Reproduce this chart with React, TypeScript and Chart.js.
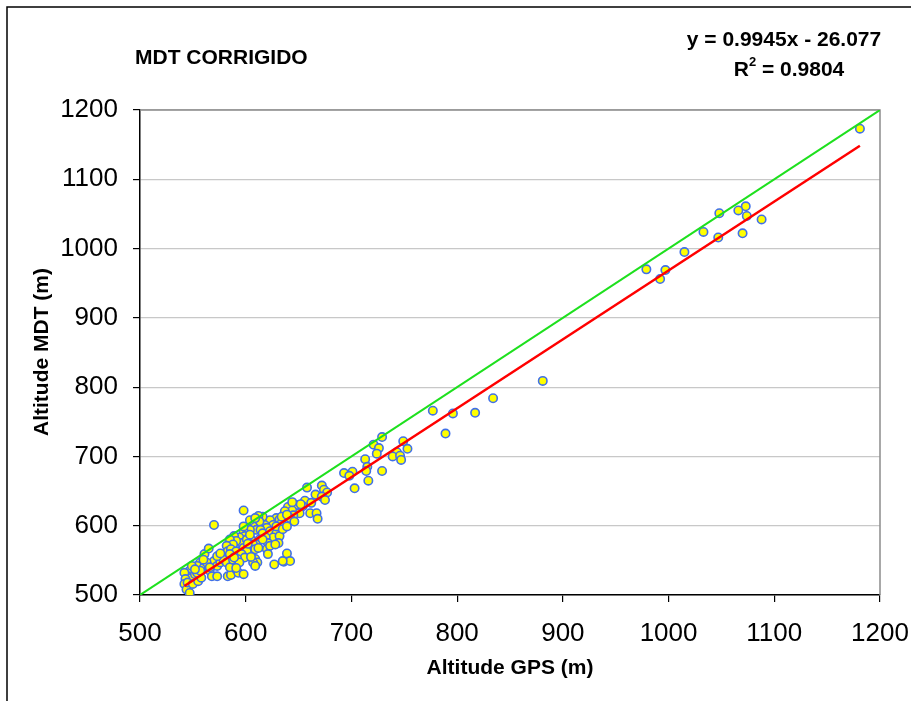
import React, { useEffect, useRef } from "react";
import { Chart, registerables } from "chart.js";

Chart.register(...registerables);

// GPS altitude (x) and corrected DTM altitude (y), metres
const gpsAltitude: number[] = [
  1181, 1088, 1073, 1066, 1074, 1070, 1048, 1047, 1033, 1015, 997, 992, 979,
  881, 834, 817, 796, 789, 777,
  729, 721, 726, 724, 749, 753, 743, 739, 746, 747, 713, 715, 714, 729, 716, 703, 693, 701, 698,
  658, 672, 674, 677, 666, 672, 675, 656, 662, 661, 667, 668,
  654, 648, 640, 644, 637, 651,
  645, 642, 646, 629, 632, 634, 623, 626, 618, 620, 616, 612, 613,
  607, 610, 604, 601, 598, 599, 598, 614, 616, 623, 629,
  626, 632, 631, 619, 621, 613, 610, 605, 607, 609,
  594, 596, 589, 591, 585, 588, 582, 583, 586, 591, 598, 601, 596, 599,
  609, 611, 607, 605, 620, 623, 628, 627, 636, 639, 642,
  570, 561, 565, 557, 554, 560, 565, 570, 573, 576, 579, 582,
  566, 568, 573, 583, 586, 591, 593, 598, 585, 588, 592, 594,
  547, 545, 549, 552, 542, 543, 542, 544, 547, 545, 550, 555, 558,
  554, 557, 549, 552, 563, 566, 560, 601, 602, 604,
  629, 635, 639, 634, 639, 644, 652, 585, 589, 573, 576, 612, 616,
  604, 609, 598, 621, 609, 591, 635,
];

const mdtAltitude: number[] = [
  1173, 1042, 1061, 1055, 1047, 1022, 1051, 1016, 1024, 995, 969, 956, 970,
  809, 784, 763, 762, 733, 766,
  728, 717, 712, 704, 722, 711, 706, 700, 701, 695, 696, 685, 679, 679, 665, 654, 676, 678, 672,
  655, 658, 652, 648, 645, 642, 637, 636, 633, 618, 618, 610,
  628, 630, 627, 622, 621, 618,
  615, 611, 606, 611, 609, 604, 608, 601, 601, 597, 613, 614, 606,
  599, 594, 594, 587, 592, 585, 622, 594, 589, 592, 589,
  583, 585, 575, 583, 575, 580, 573, 580, 573, 566,
  583, 575, 585, 578, 580, 573, 571, 563, 566, 563, 568, 563, 559, 554,
  552, 547, 547, 555, 566, 571, 573, 544, 548, 560, 549,
  601, 559, 567, 547, 542, 539, 540, 549, 542, 547, 551, 547,
  535, 527, 527, 527, 529, 537, 532, 530, 540, 551, 552, 547,
  535, 527, 525, 530, 532, 523, 516, 508, 503, 518, 516, 520, 525,
  532, 535, 542, 537, 547, 540, 551, 580, 574, 587,
  599, 595, 599, 613, 616, 634, 631, 559, 554, 556, 560, 568, 580,
  608, 611, 599, 559, 542, 539, 549,
];

const axisTicks: number[] = [500, 600, 700, 800, 900, 1000, 1100, 1200];

// Trend line coefficients shown on the chart
const trendSlope = 0.9945;
const trendIntercept = -26.077;

const chartTitle = "MDT CORRIGIDO";
const equationLabel = "y = 0.9945x - 26.077";
const r2Value = "0.9804";
const xAxisTitle = "Altitude GPS (m)";
const yAxisTitle = "Altitude MDT (m)";

const FONT = "'Liberation Sans', Arial, Helvetica, sans-serif";

export default function App() {
  const canvasRef = useRef<HTMLCanvasElement | null>(null);

  useEffect(() => {
    const canvas = canvasRef.current;
    if (!canvas) return;

    const points = gpsAltitude.map((x, i) => ({ x, y: mdtAltitude[i] }));
    const xMin = Math.min(...gpsAltitude);
    const xMax = Math.max(...gpsAltitude);
    const trend = [
      { x: xMin, y: trendSlope * xMin + trendIntercept },
      { x: xMax, y: trendSlope * xMax + trendIntercept },
    ];
    const identity = [
      { x: axisTicks[0], y: axisTicks[0] },
      { x: axisTicks[axisTicks.length - 1], y: axisTicks[axisTicks.length - 1] },
    ];

    const decor = {
      id: "decor",
      beforeDatasetsDraw(chart: any) {
        const { ctx, chartArea } = chart;
        const { left, top, right, bottom } = chartArea;
        ctx.save();
        ctx.strokeStyle = "#8c8c8c";
        ctx.lineWidth = 1.5;
        ctx.beginPath();
        ctx.moveTo(left, top);
        ctx.lineTo(right, top);
        ctx.lineTo(right, bottom);
        ctx.stroke();
        ctx.restore();
      },
      afterDraw(chart: any) {
        const { ctx } = chart;
        ctx.save();
        // outer frame
        ctx.strokeStyle = "#000";
        ctx.lineWidth = 1.5;
        ctx.beginPath();
        ctx.moveTo(7, 701);
        ctx.lineTo(7, 7);
        ctx.lineTo(911, 7);
        ctx.stroke();

        ctx.fillStyle = "#000";
        ctx.textBaseline = "middle";
        const big = `bold 21px ${FONT}`;
        // title
        ctx.font = big;
        ctx.textAlign = "left";
        ctx.fillText(chartTitle, 135, 58);

        // equation
        ctx.textAlign = "center";
        ctx.fillText(equationLabel, 784, 40);

        // R^2 line
        const small = `bold 13px ${FONT}`;
        ctx.font = big;
        const wR = ctx.measureText("R").width;
        const rest = " = " + r2Value;
        const wRest = ctx.measureText(rest).width;
        ctx.font = small;
        const w2 = ctx.measureText("2").width;
        const total = wR + w2 + wRest;
        const x0 = 789 - total / 2;
        ctx.textAlign = "left";
        ctx.font = big;
        ctx.fillText("R", x0, 70);
        ctx.font = small;
        ctx.fillText("2", x0 + wR, 62);
        ctx.font = big;
        ctx.fillText(rest, x0 + wR + w2, 70);

        // axis titles
        ctx.textAlign = "center";
        ctx.font = big;
        ctx.fillText(xAxisTitle, 510, 668);
        ctx.translate(42, 352);
        ctx.rotate(-Math.PI / 2);
        ctx.fillText(yAxisTitle, 0, 0);
        ctx.restore();
      },
    };

    const chart = new Chart(canvas, {
      type: "scatter",
      data: {
        datasets: [
          {
            label: "trend",
            data: trend,
            showLine: true,
            borderColor: "#ff0000",
            borderWidth: 2.5,
            pointRadius: 0,
            order: 0,
          },
          {
            label: "identity",
            data: identity,
            showLine: true,
            borderColor: "#1ee01e",
            borderWidth: 2,
            pointRadius: 0,
            order: 1,
          },
          {
            label: "points",
            data: points,
            backgroundColor: "#ffff00",
            borderColor: "#4070e8",
            borderWidth: 1.6,
            pointRadius: 4.2,
            order: 2,
          },
        ],
      },
      options: {
        responsive: false,
        animation: false,
        devicePixelRatio: 1,
        layout: { padding: { left: 0, top: 110, right: 31, bottom: 0 } },
        plugins: {
          legend: { display: false },
          tooltip: { enabled: false },
          title: { display: false },
        },
        scales: {
          x: {
            type: "linear",
            min: 500,
            max: 1200,
            afterFit: (s: any) => {
              s.height = 106;
              s.paddingLeft = 0;
              s.paddingRight = 0;
            },
            afterBuildTicks: (s: any) => {
              s.ticks = axisTicks.map((v) => ({ value: v }));
            },
            grid: {
              drawOnChartArea: false,
              color: "#000",
              tickColor: "#000",
              tickLength: 7,
              lineWidth: 1.2,
            },
            border: { color: "#000", width: 1.5 },
            ticks: {
              color: "#000",
              font: { family: FONT, size: 26 },
              padding: 16,
              maxRotation: 0,
              autoSkip: false,
              callback: (v: any) => String(v),
            },
          },
          y: {
            type: "linear",
            min: 500,
            max: 1200,
            afterFit: (s: any) => {
              s.width = 140;
              s.paddingTop = 0;
              s.paddingBottom = 0;
            },
            afterBuildTicks: (s: any) => {
              s.ticks = axisTicks.map((v) => ({ value: v }));
            },
            grid: {
              color: "#c8c8c8",
              tickColor: "#000",
              tickLength: 7,
              lineWidth: 1.2,
            },
            border: { color: "#000", width: 1.5 },
            ticks: {
              color: "#000",
              font: { family: FONT, size: 26 },
              padding: 15,
              autoSkip: false,
              callback: (v: any) => String(v),
            },
          },
        },
      },
      plugins: [decor],
    });

    return () => {
      chart.destroy();
    };
  }, []);

  return (
    <div style={{ position: "absolute", left: 0, top: 0, width: 911, height: 701, background: "#fff" }}>
      <canvas ref={canvasRef} width={911} height={701} style={{ display: "block" }} />
    </div>
  );
}
